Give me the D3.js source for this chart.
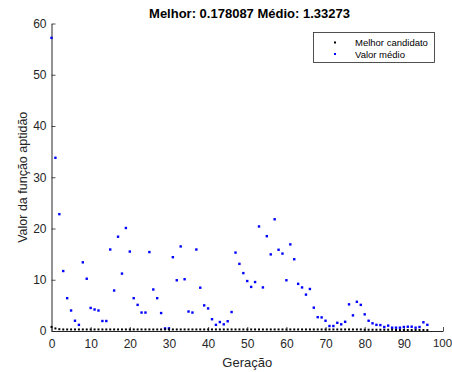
<!DOCTYPE html>
<html><head><meta charset="utf-8">
<script src="https://cdn.jsdelivr.net/npm/d3@7"></script>
<style>
html,body{margin:0;padding:0;background:#fff;}
svg{display:block;font-family:"Liberation Sans",Arial,Helvetica,sans-serif;}
</style></head>
<body>
<svg id="c" width="452" height="372"></svg>
<script>
const titleText = "Melhor: 0.178087 Médio: 1.33273";
const xLabel = "Geração";
const yLabel = "Valor da função aptidão";
const seriesNames = ["Melhor candidato", "Valor médio"];
const xTicks = [0,10,20,30,40,50,60,70,80,90,100];
const yTicks = [0,10,20,30,40,50,60];
const meanValues = [57.2,33.8,22.8,11.7,6.4,4.0,2.0,1.2,13.4,10.2,
  4.5,4.2,4.0,1.95,1.95,15.9,7.9,18.4,11.2,20.1,
  15.5,6.4,5.1,3.6,3.6,15.4,8.1,6.4,3.5,0.5,
  0.5,14.4,9.9,16.5,10.1,3.8,3.6,15.9,8.45,5.0,
  4.4,2.3,1.2,1.75,1.3,1.9,3.7,15.3,13.1,11.3,
  9.75,8.6,9.55,20.4,8.5,18.5,14.95,21.8,15.85,15.1,
  9.9,16.9,14.0,9.2,8.5,7.1,8.2,4.55,2.7,2.65,
  2.0,0.97,0.97,1.6,1.3,1.8,5.2,3.05,5.7,5.1,
  3.25,2.0,1.5,1.2,1.15,0.78,1.05,0.65,0.65,0.65,
  0.78,0.84,0.84,0.65,0.78,1.7,1.2];
const bestValues = [0.8,0.5,0.35,0.3,0.3,0.3,0.3,0.3,0.3,0.3,
  0.3,0.3,0.3,0.3,0.3,0.3,0.3,0.3,0.3,0.3,
  0.3,0.3,0.3,0.3,0.3,0.3,0.3,0.3,0.3,0.3,
  0.3,0.3,0.3,0.3,0.3,0.3,0.3,0.3,0.3,0.3,
  0.3,0.3,0.3,0.3,0.3,0.3,0.3,0.3,0.3,0.3,
  0.3,0.3,0.3,0.3,0.3,0.3,0.3,0.3,0.3,0.3,
  0.3,0.3,0.3,0.3,0.3,0.3,0.3,0.3,0.3,0.3,
  0.3,0.3,0.3,0.3,0.3,0.3,0.3,0.3,0.3,0.3,
  0.25,0.25,0.25,0.25,0.25,0.25,0.25,0.25,0.2,0.2,
  0.2,0.2,0.2,0.2,0.2,0.2,0.178];
const colors = ["#000000","#0000ff"];

const svg = d3.select("#c");
const L = 51.5, R = 443, T = 23.5, B = 331;
const x = d3.scaleLinear().domain([0,100]).range([L,R]);
const y = d3.scaleLinear().domain([0,60]).range([B,T]);
const axCol = "#262626";

// axes
const gx = svg.append("g").attr("transform",`translate(0,${B})`)
  .call(d3.axisBottom(x).tickValues(xTicks).tickSizeInner(-4).tickSizeOuter(0).tickPadding(8));
const gy = svg.append("g").attr("transform",`translate(${L},0)`)
  .call(d3.axisLeft(y).tickValues(yTicks).tickSizeInner(-4).tickSizeOuter(0).tickPadding(5));
[gx,gy].forEach(g=>{
  g.selectAll("path").attr("stroke",axCol).attr("stroke-width",1);
  g.selectAll("line").attr("stroke",axCol).attr("stroke-width",0.8);
  g.selectAll("text").attr("fill",axCol).style("font-size","12px").style("font-family","'Liberation Sans',Arial,sans-serif");
});
gx.selectAll(".tick text").filter(d=>d===100).style("font-size","11.5px").attr("dx","-1px");

// points
svg.append("g").selectAll("rect").data(meanValues).join("rect")
  .attr("x",(d,i)=>x(i)-1.2).attr("y",d=>y(d)-1.2).attr("width",2.4).attr("height",2.4)
  .attr("fill",colors[1]);
svg.append("g").selectAll("rect").data(bestValues).join("rect")
  .attr("x",(d,i)=>x(i)-1).attr("y",d=>y(d)-1).attr("width",2).attr("height",2)
  .attr("fill",colors[0]);

// labels
svg.append("text").attr("x",249.5).attr("y",18).attr("text-anchor","middle")
  .style("font-size","13px").style("font-weight","bold").attr("fill","#000").text(titleText);
svg.append("text").attr("x",(L+R)/2).attr("y",367).attr("text-anchor","middle")
  .style("font-size","13px").attr("fill",axCol).text(xLabel);
svg.append("text").attr("transform",`translate(27,${(T+B)/2}) rotate(-90)`).attr("text-anchor","middle")
  .style("font-size","12.5px").attr("fill",axCol).text(yLabel);

// legend
const lg = svg.append("g");
lg.append("rect").attr("x",313.5).attr("y",32.5).attr("width",121).attr("height",30)
  .attr("fill","#fff").attr("stroke",axCol).attr("stroke-width",0.8);
seriesNames.forEach((n,i)=>{
  const yy = 42.5 + i*11.5;
  lg.append("rect").attr("x",335-1).attr("y",yy-1).attr("width",2).attr("height",2).attr("fill",colors[i]);
  lg.append("text").attr("x",355).attr("y",yy+3.5).style("font-size","9.5px").attr("fill","#000").text(n);
});
</script>
</body></html>
